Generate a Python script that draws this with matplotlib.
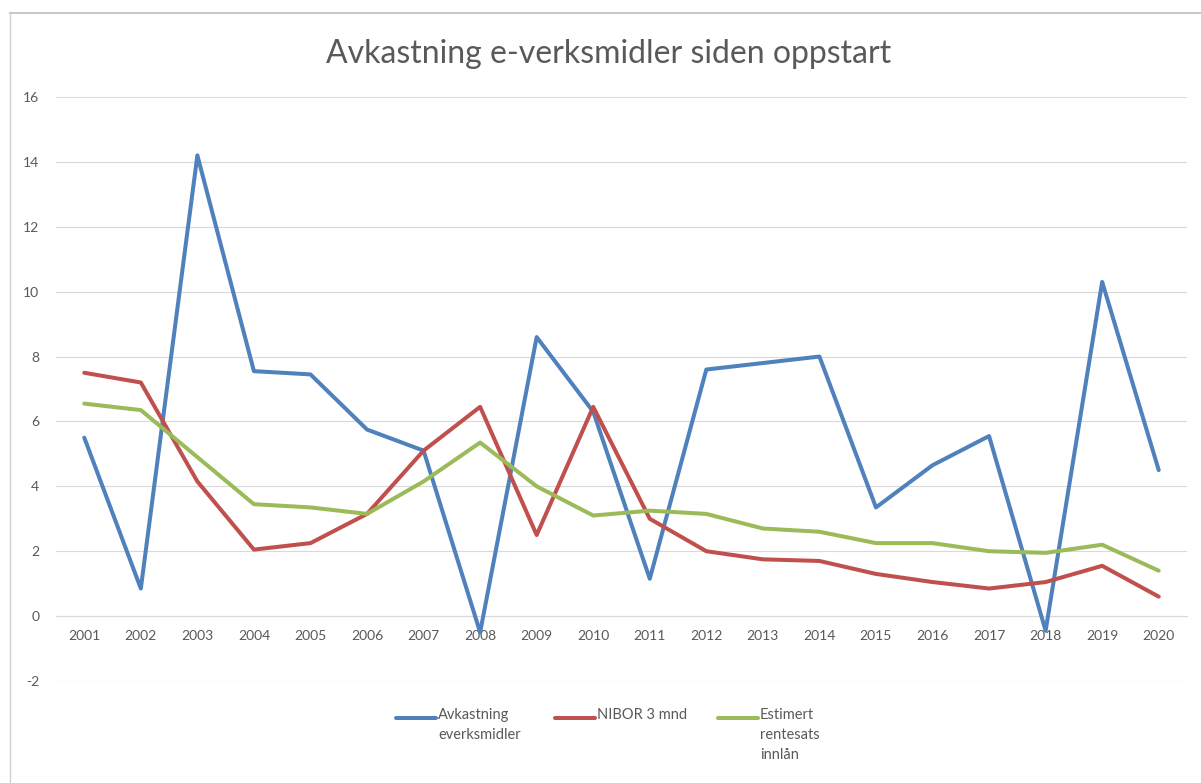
import matplotlib
matplotlib.use("Agg")
import matplotlib.pyplot as plt
from matplotlib.lines import Line2D

years = [str(y) for y in range(2001, 2021)]
avkastning = [5.5, 0.85, 14.2, 7.55, 7.45, 5.75, 5.1, -0.5, 8.6, 6.3,
              1.15, 7.6, 7.8, 8.0, 3.35, 4.65, 5.55, -0.45, 10.3, 4.5]
nibor = [7.5, 7.2, 4.15, 2.05, 2.25, 3.15, 5.1, 6.45, 2.5, 6.45,
         3.0, 2.0, 1.75, 1.7, 1.3, 1.05, 0.85, 1.05, 1.55, 0.6]
estimert = [6.55, 6.35, 4.9, 3.45, 3.35, 3.15, 4.15, 5.35, 4.0, 3.1,
            3.25, 3.15, 2.7, 2.6, 2.25, 2.25, 2.0, 1.95, 2.2, 1.4]
series_labels = ["Avkastning\neverksmidler", "NIBOR 3 mnd", "Estimert\nrentesats\ninnlån"]
colors = ["#4F81BD", "#C0504D", "#9BBB59"]
title = "Avkastning e-verksmidler siden oppstart"
yticks = list(range(-2, 17, 2))

plt.rcParams['font.family'] = ['Lato', 'DejaVu Sans']
txt_col = "#595959"
grid_col = "#D9D9D9"

W, H = 1201, 783
fig = plt.figure(figsize=(W / 100, H / 100), dpi=100)
ax = fig.add_axes([56 / W, 1 - 681 / H, (1187 - 56) / W, (681 - 97) / H])

x = list(range(len(years)))
for vals, c in zip([avkastning, nibor, estimert], colors):
    ax.plot(x, vals, color=c, lw=2.9, solid_joinstyle='round', solid_capstyle='round', zorder=3)

ax.set_xlim(-0.5, len(years) - 0.5)
ax.set_ylim(-2, 16)
ax.set_yticks(yticks)
ax.set_yticklabels([str(t) for t in yticks])
for t in yticks:
    ax.axhline(t, color=grid_col, lw=0.8, zorder=1)
ax.set_xticks(x)
ax.set_xticklabels(years)
for s in ['top', 'right', 'left']:
    ax.spines[s].set_visible(False)
ax.spines['bottom'].set_position(('data', 0))
ax.spines['bottom'].set_color(grid_col)
ax.spines['bottom'].set_linewidth(0.8)
ax.tick_params(axis='both', length=0, labelsize=10, labelcolor=txt_col)
ax.tick_params(axis='y', pad=12)
ax.tick_params(axis='x', pad=10)

fig.text(609 / W, 1 - 54 / H, title, ha='center', va='center', fontsize=23,
         color=txt_col)

# frame borders
fig.add_artist(Line2D([10 / W, 1], [1 - 13 / H, 1 - 13 / H], color="#C8C8C8", lw=1.5))
fig.add_artist(Line2D([10 / W, 10 / W], [0, 1 - 13 / H], color="#D0D0D0", lw=1.0))

# legend
leg_x = [396, 555, 718]
for lx, lab, c in zip(leg_x, series_labels, colors):
    ly = 1 - 718 / H
    fig.add_artist(Line2D([lx / W, (lx + 40) / W], [ly, ly], color=c, lw=2.9,
                          solid_capstyle='round'))
    fig.text((lx + 42) / W, 1 - 708 / H, lab, ha='left', va='top', fontsize=10.5,
             color=txt_col, linespacing=1.55)

fig.savefig("out.png", dpi=100)
